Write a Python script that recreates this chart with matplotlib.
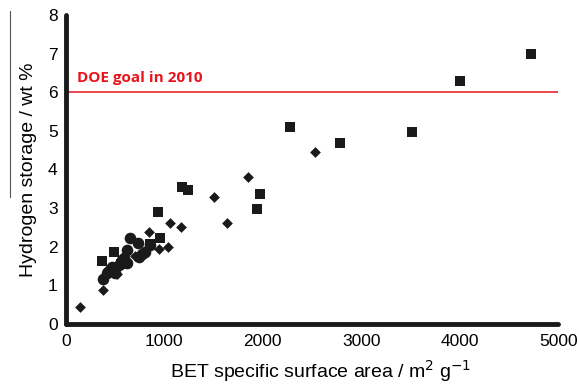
import matplotlib.pyplot as plt
from matplotlib.lines import Line2D

# Squares
sq_x = [4720, 4000, 3520, 2780, 2280, 1975, 1940, 1175, 1235, 930, 950, 363, 490, 856, 560]
sq_y = [7.0, 6.3, 4.97, 4.68, 5.1, 3.37, 2.98, 3.55, 3.48, 2.9, 2.22, 1.63, 1.85, 2.08, 1.55]

# Diamonds
dm_x = [141, 375, 2530, 1850, 1500, 1635, 840, 1057, 1168, 1038, 940, 425, 520, 700]
dm_y = [0.43, 0.87, 4.45, 3.8, 3.28, 2.62, 2.38, 2.62, 2.52, 2.0, 1.95, 1.42, 1.28, 1.75]

# Circles
ci_x = [375, 413, 470, 500, 537, 570, 590, 615, 621, 648, 729, 738, 772, 806, 856, 455]
ci_y = [1.16, 1.31, 1.48, 1.33, 1.53, 1.66, 1.70, 1.91, 1.57, 2.22, 2.09, 1.74, 1.80, 1.87, 2.04, 1.40]

x_ticks = [0, 1000, 2000, 3000, 4000, 5000]
y_ticks = [0, 1, 2, 3, 4, 5, 6, 7, 8]
doe_goal = 6

plt.rcParams["font.family"] = ["Liberation Sans", "DejaVu Sans"]

fig = plt.figure(figsize=(5.79, 3.86), dpi=100)
ax = fig.add_axes([0.114, 0.161, 0.850, 0.800])

ax.axhline(doe_goal, color="#e8141b", lw=1.1, zorder=1)
ax.text(110, 6.18, "DOE goal in 2010", color="#e8141b", fontsize=11,
        fontweight="bold", family=["Open Sans", "DejaVu Sans"], va="bottom", ha="left")

ax.scatter(ci_x, ci_y, marker="o", s=70, color="#1a1a1a", lw=0, zorder=3)
ax.scatter(sq_x, sq_y, marker="s", s=48, color="#1a1a1a", lw=0, zorder=3)
ax.scatter(dm_x, dm_y, marker="D", s=30, color="#1a1a1a", lw=0, zorder=3)

ax.set_xlim(0, 5000)
ax.set_ylim(0, 8)
ax.set_xticks(x_ticks)
ax.set_yticks(y_ticks)
ax.tick_params(length=0, labelsize=12.5, pad=6)
ax.tick_params(axis="x", pad=7)

for side in ["top", "right"]:
    ax.spines[side].set_visible(False)
for side in ["left", "bottom"]:
    ax.spines[side].set_linewidth(3.5)
    ax.spines[side].set_color("#1a1a1a")
    ax.spines[side].set_capstyle("round")

ax.set_xlabel("BET specific surface area / m$^2$ g$^{-1}$", fontsize=14)
ax.xaxis.set_label_coords(0.517, -0.112)
ax.set_ylabel("Hydrogen storage / wt %", fontsize=14, labelpad=8)

# thin stray rule beside the y label, as in the source image
fig.add_artist(Line2D([10 / 579, 10 / 579], [1 - 11 / 386, 1 - 197 / 386],
                      color="#555555", lw=0.8, transform=fig.transFigure))

fig.savefig("out.png", dpi=100)
